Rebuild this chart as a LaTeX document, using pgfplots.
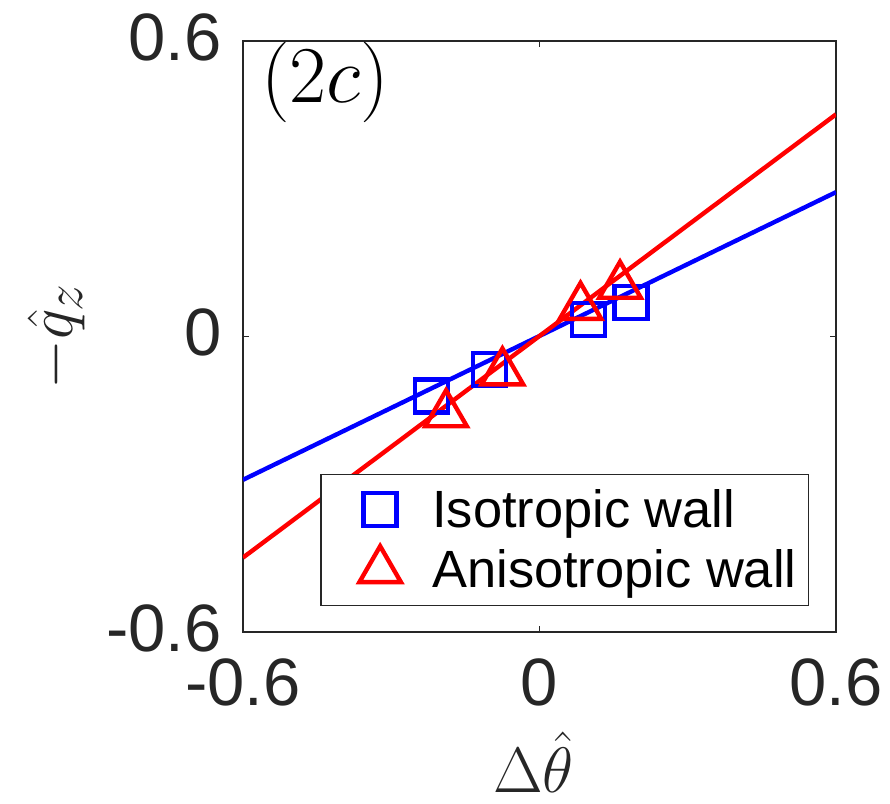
\documentclass[border=0pt]{standalone}
\usepackage{graphicx}
\usepackage[no-math]{fontspec}
\setmainfont{Liberation Sans}
\usepackage{pgfplots}
\pgfplotsset{compat=1.18}
\usetikzlibrary{calc}
\definecolor{axgray}{gray}{0.15}
\definecolor{mblue}{rgb}{0,0,1}
\definecolor{mred}{rgb}{1,0,0}
\pgfplotsset{
  mylegimg/.style={legend image code/.code={%
    \path (-22.5pt,-13pt) (25pt,13pt);
    \draw[##1] plot coordinates {(0pt,0pt)};}}
}
\newcommand{\bigmath}[2]{{\fontsize{24.88}{30}\selectfont\scalebox{#1}{$#2$}}}
\begin{document}
\begin{tikzpicture}
\begin{axis}[name=ax, scale only axis, width=296.5pt, height=295.5pt,
  xmin=-0.6, xmax=0.6, ymin=-0.6, ymax=0.6,
  xtick={-0.6,0,0.6}, ytick={-0.6,0,0.6},
  xticklabels={-0.6,0,0.6}, yticklabels={-0.6,0,0.6},
  tick align=inside, major tick length=3pt,
  axis line style={axgray, line width=0.6pt},
  tick style={axgray, line width=0.6pt},
  ticklabel style={font=\fontsize{33.5}{40}\selectfont, text=axgray},
  xticklabel style={anchor=north, inner sep=0pt, yshift=-13pt},
  yticklabel style={anchor=east, inner sep=0pt, xshift=-10.5pt, yshift=2pt},
  xlabel={\bigmath{1.29}{\Delta\hat{\theta}}}, ylabel={\bigmath{1.29}{-\hat{q}_z}},
  label style={text=axgray},
  xlabel style={at={(axis description cs:0.49,-0.2724)}, anchor=base},
  ylabel style={at={(axis description cs:-0.314,0.5)}, anchor=center},
  legend style={at={(axis description cs:1,0)}, anchor=south east,
    xshift=-13.5pt, yshift=13pt, draw=axgray, line width=0.6pt,
    font=\fontsize{26.2}{30}\selectfont, text=black,
    inner xsep=6pt, inner ysep=3.5pt, row sep=2pt, column sep=0pt,
    nodes={inner sep=0pt}},
  legend cell align=left,
]
\addplot[only marks, mark=square, mark size=8.25pt, line width=2.2pt, color=mblue, mylegimg]
  coordinates {(-0.219,-0.121) (-0.101,-0.067) (0.099,0.035) (0.185,0.069)};
\addlegendentry{Isotropic wall}
\addplot[mblue, line width=2.2pt, forget plot] coordinates {(-0.6,-0.291) (0.6,0.293)};
\addplot[only marks, mark=triangle, mark size=12pt, line width=2.2pt, color=mred, mylegimg]
  coordinates {(-0.189,-0.158) (-0.075,-0.073) (0.083,0.060) (0.163,0.103)};
\addlegendentry{Anisotropic wall}
\addplot[mred, line width=2.2pt, forget plot] coordinates {(-0.6,-0.449) (0.6,0.451)};
\node[anchor=north west, inner sep=0pt, text=black]
  at (rel axis cs:0,1) [xshift=9pt, yshift=-0.5pt] {\bigmath{1.62}{(2c)}};
\end{axis}
\pgfresetboundingbox
\path ($(ax.south west)+(-121.5pt,-86pt)$) rectangle ($(ax.north east)+(27pt,20.5pt)$);
\end{tikzpicture}
\end{document}
